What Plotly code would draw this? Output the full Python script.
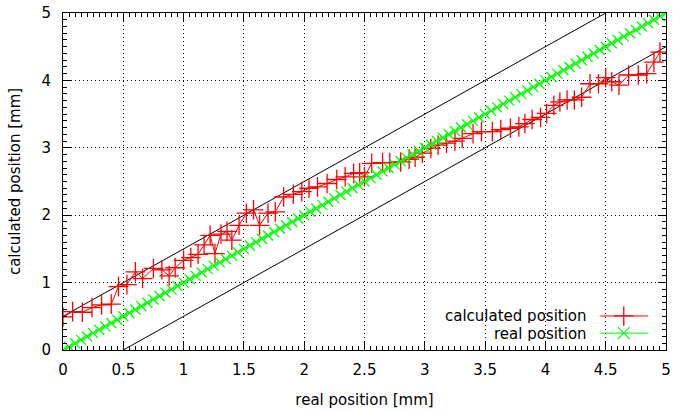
import plotly.graph_objects as go

# real position [mm] (x) and calculated position [mm] for the measured series
calc_x = [0.00, 0.08, 0.16, 0.24, 0.32, 0.40, 0.46, 0.53, 0.60, 0.66, 0.75, 0.82,
          0.88, 0.93, 1.00, 1.06, 1.12, 1.17, 1.22, 1.26, 1.31, 1.36, 1.40, 1.46,
          1.52, 1.58, 1.63, 1.70, 1.76, 1.83, 1.91, 1.98, 2.04, 2.11, 2.19, 2.27,
          2.34, 2.41, 2.46, 2.50, 2.56, 2.65, 2.71, 2.80, 2.87, 2.92, 2.98, 3.05,
          3.11, 3.18, 3.25, 3.31, 3.40, 3.47, 3.56, 3.63, 3.71, 3.78, 3.83, 3.89,
          3.96, 4.01, 4.07, 4.12, 4.18, 4.24, 4.30, 4.37, 4.44, 4.50, 4.55, 4.61,
          4.69, 4.77, 4.84, 4.90, 4.95]
calc_y = [0.49, 0.57, 0.56, 0.63, 0.67, 0.68, 0.94, 0.97, 1.16, 1.06, 1.21, 1.19,
          1.10, 1.22, 1.33, 1.37, 1.42, 1.56, 1.70, 1.43, 1.72, 1.76, 1.63, 1.85,
          2.03, 2.08, 1.85, 2.03, 2.05, 2.27, 2.31, 2.35, 2.40, 2.42, 2.47, 2.53,
          2.57, 2.62, 2.63, 2.57, 2.77, 2.78, 2.78, 2.79, 2.83, 2.86, 2.92, 2.99,
          3.04, 3.07, 3.10, 3.14, 3.21, 3.24, 3.24, 3.27, 3.29, 3.31, 3.36, 3.42,
          3.45, 3.51, 3.63, 3.68, 3.71, 3.71, 3.75, 3.95, 3.95, 4.04, 3.98, 3.93,
          4.08, 4.08, 4.10, 4.27, 4.42]

# real position series (identity), sampled every 0.05 mm
real_x = [round(i * 0.05, 2) for i in range(101)]
real_y = list(real_x)

# +/- 0.5 mm tolerance band
upper_x = [0.0, 4.5]
upper_y = [0.5, 5.0]
lower_x = [0.5, 5.0]
lower_y = [0.0, 4.5]

x_ticks = [0, 0.5, 1, 1.5, 2, 2.5, 3, 3.5, 4, 4.5, 5]
x_tick_labels = ["0", "0.5", "1", "1.5", "2", "2.5", "3", "3.5", "4", "4.5", "5"]
y_ticks = [0, 1, 2, 3, 4, 5]
y_tick_labels = ["0", "1", "2", "3", "4", "5"]

RED = "#ff0000"
GREEN = "#00ff00"
FONT = "DejaVu Sans"
FS = 15

fig = go.Figure()
for xs, ys in ((upper_x, upper_y), (lower_x, lower_y)):
    fig.add_trace(go.Scatter(x=xs, y=ys, mode="lines",
                             line=dict(color="black", width=1), showlegend=False,
                             hoverinfo="skip"))
fig.add_trace(go.Scatter(x=calc_x, y=calc_y, mode="lines+markers", name="calculated position",
                         line=dict(color=RED, width=1),
                         marker=dict(symbol="cross-thin", size=14,
                                     line=dict(color=RED, width=1.3)),
                         showlegend=False))
fig.add_trace(go.Scatter(x=real_x, y=real_y, mode="lines+markers", name="real position",
                         line=dict(color=GREEN, width=1),
                         marker=dict(symbol="x-thin", size=10,
                                     line=dict(color=GREEN, width=1.3)),
                         showlegend=False))

# gnuplot-style key: text on the left, sample on the right (overlay axes 0..1)
key_rows = [("calculated position", RED, "cross-thin", 14, 0.101),
            ("real position", GREEN, "x-thin", 12, 0.050)]
for label, col, sym, sz, yk in key_rows:
    fig.add_trace(go.Scatter(x=[0.891, 0.970], y=[yk, yk], mode="lines",
                             line=dict(color=col, width=1), xaxis="x2", yaxis="y2",
                             showlegend=False, hoverinfo="skip"))
    fig.add_trace(go.Scatter(x=[0.930], y=[yk], mode="markers",
                             marker=dict(symbol=sym, size=sz, line=dict(color=col, width=1.3)),
                             xaxis="x2", yaxis="y2", showlegend=False, hoverinfo="skip"))
    fig.add_annotation(x=0.871, y=yk, xref="paper", yref="paper", text=label,
                       showarrow=False, xanchor="right", yanchor="middle",
                       height=15, valign="middle", borderpad=0,
                       font=dict(family=FONT, size=FS, color="black"))

axis_common = dict(
    showline=True, linecolor="black", linewidth=1, mirror="allticks",
    ticks="inside", ticklen=8, tickwidth=1, tickcolor="black",
    showgrid=True, gridcolor="black", gridwidth=1, griddash="1px,3px",
    zeroline=False, automargin=False,
    tickfont=dict(family=FONT, size=FS, color="black"),
)

fig.update_layout(
    width=673, height=410,
    margin=dict(l=63, r=7, t=13, b=60),
    paper_bgcolor="white", plot_bgcolor="white",
    font=dict(family=FONT, size=FS, color="black"),
    showlegend=False,
    xaxis=dict(range=[0, 5], tickvals=x_ticks, ticktext=x_tick_labels,
               title=dict(text="real position [mm]", standoff=16,
                          font=dict(family=FONT, size=FS)),
               ticklabelstandoff=6,
               minor=dict(dtick=0.05, ticks="inside", ticklen=4, tickcolor="black",
                          showgrid=False),
               **axis_common),
    yaxis=dict(range=[0, 5], tickvals=y_ticks, ticktext=y_tick_labels,
               title=dict(text="calculated position [mm]", standoff=17,
                          font=dict(family=FONT, size=FS)),
               ticklabelstandoff=8,
               minor=dict(dtick=0.1, ticks="inside", ticklen=4, tickcolor="black",
                          showgrid=False),
               **axis_common),
    xaxis2=dict(overlaying="x", range=[0, 1], visible=False, fixedrange=True),
    yaxis2=dict(overlaying="y", range=[0, 1], visible=False, fixedrange=True),
)

fig.write_html("out.html")
